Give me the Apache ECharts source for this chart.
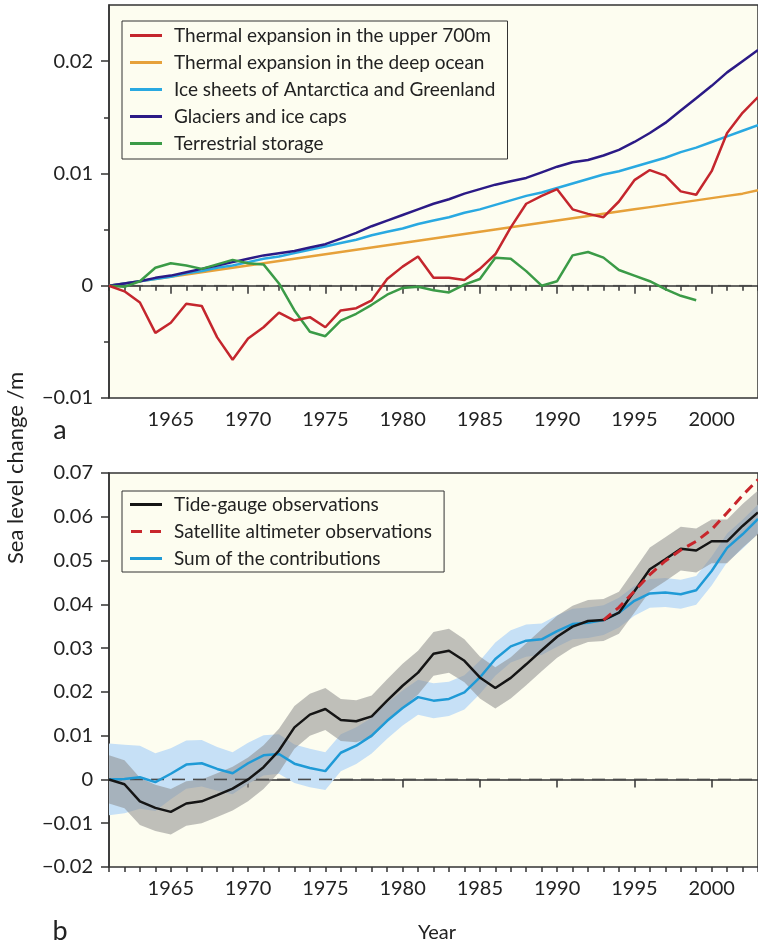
<!DOCTYPE html>
<html>
<head>
<meta charset="utf-8">
<title>Sea level change contributions</title>
<script src="https://cdn.jsdelivr.net/npm/echarts@6/dist/echarts.min.js"></script>
<style>
  html, body { margin: 0; padding: 0; background: #fff; }
  #main { width: 758px; height: 944px; }
</style>
</head>
<body>
<div id="main"></div>
<script>
// years on both panels
var years = [1961, 1962, 1963, 1964, 1965, 1966, 1967, 1968, 1969, 1970,
             1971, 1972, 1973, 1974, 1975, 1976, 1977, 1978, 1979, 1980,
             1981, 1982, 1983, 1984, 1985, 1986, 1987, 1988, 1989, 1990,
             1991, 1992, 1993, 1994, 1995, 1996, 1997, 1998, 1999, 2000,
             2001, 2002, 2003];

// panel a (m)
var thermalUpper = [0, -0.0005, -0.0015, -0.0042, -0.0033, -0.0016, -0.0018, -0.0046, -0.0066, -0.0047,
                    -0.0037, -0.0024, -0.0031, -0.0028, -0.0037, -0.0022, -0.0020, -0.0013, 0.0006, 0.0017,
                    0.0026, 0.0007, 0.0007, 0.0005, 0.0015, 0.0028, 0.0052, 0.0073, 0.0080, 0.0086,
                    0.0068, 0.0064, 0.0061, 0.0075, 0.0094, 0.0103, 0.0098, 0.0084, 0.0081, 0.0102,
                    0.0136, 0.0154, 0.0168];
var thermalDeep = [0, 0.0002, 0.0004, 0.0006, 0.0008, 0.0010, 0.0012, 0.0014, 0.0016, 0.0018,
                   0.0020, 0.0022, 0.0024, 0.0026, 0.0028, 0.0030, 0.0032, 0.0034, 0.0036, 0.0038,
                   0.0040, 0.0042, 0.0044, 0.0046, 0.0048, 0.0050, 0.0052, 0.0054, 0.0056, 0.0058,
                   0.0060, 0.0062, 0.0064, 0.0066, 0.0068, 0.0070, 0.0072, 0.0074, 0.0076, 0.0078,
                   0.0080, 0.0082, 0.0085];
var iceSheets = [0, 0.0002, 0.0004, 0.0006, 0.0008, 0.0011, 0.0013, 0.0016, 0.0018, 0.0021,
                 0.0024, 0.0026, 0.0029, 0.0032, 0.0035, 0.0038, 0.0041, 0.0045, 0.0048, 0.0051,
                 0.0055, 0.0058, 0.0061, 0.0065, 0.0068, 0.0072, 0.0076, 0.0080, 0.0083, 0.0087,
                 0.0091, 0.0095, 0.0099, 0.0102, 0.0106, 0.0110, 0.0114, 0.0119, 0.0123, 0.0128,
                 0.0133, 0.0138, 0.0143];
var glaciers = [0, 0.0002, 0.0004, 0.0007, 0.0009, 0.0012, 0.0015, 0.0018, 0.0021, 0.0024,
                0.0027, 0.0029, 0.0031, 0.0034, 0.0037, 0.0042, 0.0047, 0.0053, 0.0058, 0.0063,
                0.0068, 0.0073, 0.0077, 0.0082, 0.0086, 0.0090, 0.0093, 0.0096, 0.0101, 0.0106,
                0.0110, 0.0112, 0.0116, 0.0121, 0.0128, 0.0136, 0.0145, 0.0156, 0.0167, 0.0178,
                0.0190, 0.0200, 0.0210];
// ends in 1999
var terrestrial = [0, -0.0001, 0.0004, 0.0016, 0.0020, 0.0018, 0.0015, 0.0019, 0.0023, 0.0020,
                   0.0019, 0.0002, -0.0022, -0.0041, -0.0045, -0.0031, -0.0025, -0.0017, -0.0008, -0.0002,
                   -0.0001, -0.0004, -0.0006, 0.0001, 0.0006, 0.0025, 0.0024, 0.0013, 0.0000, 0.0004,
                   0.0027, 0.0030, 0.0025, 0.0014, 0.0009, 0.0004, -0.0003, -0.0009, -0.0013];

// panel b (m)
var tideGauge = [0, -0.0011, -0.0050, -0.0065, -0.0074, -0.0055, -0.0050, -0.0036, -0.0021, 0.0000,
                 0.0028, 0.0066, 0.0119, 0.0148, 0.0161, 0.0136, 0.0133, 0.0144, 0.0180, 0.0214,
                 0.0244, 0.0287, 0.0294, 0.0271, 0.0233, 0.0209, 0.0232, 0.0263, 0.0295, 0.0326,
                 0.0349, 0.0362, 0.0364, 0.0381, 0.0430, 0.0480, 0.0503, 0.0527, 0.0523, 0.0544,
                 0.0544, 0.0579, 0.0610];
var tideErr = [0.0055, 0.0055, 0.0054, 0.0053, 0.0052, 0.0051, 0.0050, 0.0050, 0.0050, 0.0050,
               0.0050, 0.0050, 0.0049, 0.0048, 0.0048, 0.0048, 0.0048, 0.0048, 0.0049, 0.0050,
               0.0050, 0.0050, 0.0050, 0.0049, 0.0048, 0.0047, 0.0047, 0.0048, 0.0048, 0.0048,
               0.0048, 0.0048, 0.0048, 0.0048, 0.0049, 0.0050, 0.0050, 0.0050, 0.0050, 0.0050,
               0.0050, 0.0050, 0.0050];
var satYears = [1993, 1994, 1995, 1996, 1997, 1998, 1999, 2000, 2001, 2002, 2003];
var satellite = [0.0364, 0.0393, 0.0430, 0.0468, 0.0499, 0.0524, 0.0544, 0.0571, 0.0609, 0.0649, 0.0685];
var sumContrib = [0, 0.0001, 0.0005, -0.0006, 0.0013, 0.0034, 0.0037, 0.0024, 0.0014, 0.0037,
                  0.0055, 0.0058, 0.0036, 0.0026, 0.0019, 0.0061, 0.0077, 0.0100, 0.0134, 0.0163,
                  0.0188, 0.0180, 0.0184, 0.0199, 0.0233, 0.0275, 0.0304, 0.0317, 0.0320, 0.0339,
                  0.0355, 0.0358, 0.0364, 0.0381, 0.0408, 0.0425, 0.0427, 0.0423, 0.0432, 0.0476,
                  0.0529, 0.0560, 0.0595];
var sumErr = [0.0082, 0.0078, 0.0072, 0.0066, 0.0058, 0.0055, 0.0053, 0.0050, 0.0048, 0.0047,
              0.0046, 0.0045, 0.0044, 0.0044, 0.0043, 0.0042, 0.0042, 0.0041, 0.0041, 0.0040,
              0.0040, 0.0040, 0.0039, 0.0039, 0.0038, 0.0038, 0.0037, 0.0037, 0.0036, 0.0036,
              0.0035, 0.0035, 0.0034, 0.0034, 0.0034, 0.0033, 0.0033, 0.0033, 0.0033, 0.0033,
              0.0033, 0.0033, 0.0033];

// zero reference line (dashed): one dash per year step
var zeroYears = years;
var zeroLevel = years.map(function () { return 0; });

// tick labels
var yearLabels = [1965, 1970, 1975, 1980, 1985, 1990, 1995, 2000];
var topYLabels = [-0.01, 0, 0.01, 0.02];
var topYMinor = [-0.005, 0.005, 0.015];

var font = 'Lato, "Noto Sans", sans-serif';
var ink = '#333';

function pairs(xs, ys) {
  return ys.map(function (v, i) { return [xs[i], v]; });
}
function fmt(v) {
  if (Math.abs(v) < 1e-9) return '0';
  return (v < 0 ? '\u2212' : '') + Math.abs(v).toFixed(2);
}

function xMajor(g) {
  return {
    type: 'value', gridIndex: g, position: 'bottom', min: 1961, max: 2003,
    axisLine: { lineStyle: { color: ink, width: 1.5 } },
    axisTick: { customValues: yearLabels, length: 8, lineStyle: { color: ink, width: 1.5 } },
    axisLabel: { customValues: yearLabels, formatter: function (v) { return String(v); },
                 margin: 12, fontSize: 20, color: '#222', fontFamily: font },
    splitLine: { show: false }
  };
}
function xMinor(g) {
  return {
    type: 'value', gridIndex: g, position: 'bottom', min: 1961, max: 2003, interval: 1,
    axisLine: { show: false },
    axisTick: { length: 5, lineStyle: { color: ink, width: 1.5 } },
    axisLabel: { show: false },
    splitLine: { show: false }
  };
}

function line(name, xs, ys, color, xi, yi, extra) {
  var s = {
    name: name, type: 'line', xAxisIndex: xi, yAxisIndex: yi,
    data: pairs(xs, ys), symbol: 'none', z: 10,
    lineStyle: { color: color, width: 2.5 }, itemStyle: { color: color }
  };
  for (var k in extra) s[k] = extra[k];
  return s;
}

// dashed zero reference: short segments placed through the axis scales
function zeroSeries(xi, yi) {
  return {
    name: 'zero', type: 'custom', xAxisIndex: xi, yAxisIndex: yi, silent: true, z: 5,
    data: pairs(zeroYears, zeroLevel),
    renderItem: function (params, api) {
      if (params.dataIndex !== 0) return null;
      var a = api.coord([zeroYears[0], 0]);
      var b = api.coord([zeroYears[zeroYears.length - 1], 0]);
      var segs = [];
      for (var x = a[0]; x < b[0]; x += 21) {
        segs.push({ type: 'line', shape: { x1: x, y1: a[1], x2: Math.min(x + 13, b[0]), y2: a[1] },
                    style: { stroke: '#4a4a4a', lineWidth: 1.6 } });
      }
      return { type: 'group', children: segs };
    }
  };
}

// uncertainty band drawn as one polygon through the axis scales
function band(name, mid, err, color, z) {
  return {
    name: name, type: 'custom', xAxisIndex: 2, yAxisIndex: 2, z: z, silent: true,
    data: pairs(years, mid),
    renderItem: function (params, api) {
      if (params.dataIndex !== 0) return null;
      var pts = [];
      for (var i = 0; i < years.length; i++) pts.push(api.coord([years[i], mid[i] + err[i]]));
      for (var j = years.length - 1; j >= 0; j--) pts.push(api.coord([years[j], mid[j] - err[j]]));
      return { type: 'polygon', shape: { points: pts }, style: { fill: color } };
    }
  };
}

var legendBase = {
  orient: 'vertical', left: 122, itemWidth: 32, itemHeight: 3, itemGap: 8,
  backgroundColor: '#fdfdf0', borderColor: ink, borderWidth: 1, borderRadius: 0,
  textStyle: { fontFamily: font, fontSize: 19, color: '#222', padding: [0, 0, 0, 7] },
  selectedMode: false
};

var chart = echarts.init(document.getElementById('main'));
chart.setOption({
  animation: false,
  backgroundColor: '#fff',
  grid: [
    { left: 109, top: 5, width: 655, height: 393, show: true,
      backgroundColor: '#fdfdf0', borderColor: ink, borderWidth: 1.5 },
    { left: 109, top: 473, width: 655, height: 394, show: true,
      backgroundColor: '#fdfdf0', borderColor: ink, borderWidth: 1.5 }
  ],
  xAxis: [xMajor(0), xMinor(0), xMajor(1), xMinor(1)],
  yAxis: [
    { type: 'value', gridIndex: 0, position: 'left', min: -0.01, max: 0.025,
      axisLine: { lineStyle: { color: ink, width: 1.5 } },
      axisTick: { customValues: topYLabels, length: 8, lineStyle: { color: ink, width: 1.5 } },
      axisLabel: { customValues: topYLabels, formatter: fmt, margin: 16, fontSize: 20, color: '#222', fontFamily: font },
      splitLine: { show: false } },
    { type: 'value', gridIndex: 0, position: 'left', min: -0.01, max: 0.025,
      axisLine: { show: false },
      axisTick: { customValues: topYMinor, length: 5, lineStyle: { color: ink, width: 1.5 } },
      axisLabel: { show: false }, splitLine: { show: false } },
    { type: 'value', gridIndex: 1, position: 'left', min: -0.02, max: 0.07, interval: 0.01,
      axisLine: { lineStyle: { color: ink, width: 1.5 } },
      axisTick: { length: 8, lineStyle: { color: ink, width: 1.5 } },
      axisLabel: { formatter: fmt, margin: 16, fontSize: 20, color: '#222', fontFamily: font },
      splitLine: { show: false } }
  ],
  legend: [
    Object.assign({}, legendBase, {
      top: 21, padding: [5, 12, 6, 8],
      data: [
        { name: 'Thermal expansion in the upper 700m', icon: 'rect' },
        { name: 'Thermal expansion in the deep ocean', icon: 'rect' },
        { name: 'Ice sheets of Antarctica and Greenland', icon: 'rect' },
        { name: 'Glaciers and ice caps', icon: 'rect' },
        { name: 'Terrestrial storage', icon: 'rect' }
      ]
    }),
    Object.assign({}, legendBase, {
      top: 491, padding: [4, 12, 4, 8],
      data: [
        { name: 'Tide-gauge observations', icon: 'rect' },
        { name: 'Satellite altimeter observations', icon: 'path://M0 0H11V3H0Z M19 0H30V3H19Z' },
        { name: 'Sum of the contributions', icon: 'rect' }
      ]
    })
  ],
  series: [
    zeroSeries(0, 0),
    line('Thermal expansion in the deep ocean', years, thermalDeep, '#e6a13a', 0, 0, { z: 9 }),
    line('Ice sheets of Antarctica and Greenland', years, iceSheets, '#29a9e1', 0, 0),
    line('Glaciers and ice caps', years, glaciers, '#2b1a86', 0, 0),
    line('Terrestrial storage', years.slice(0, terrestrial.length), terrestrial, '#3b9b47', 0, 0),
    line('Thermal expansion in the upper 700m', years, thermalUpper, '#c4262d', 0, 0, { z: 11 }),
    band('sum band', sumContrib, sumErr, '#c6e0f6', 1),
    band('tide band', tideGauge, tideErr, 'rgba(140,140,140,0.55)', 2),
    zeroSeries(2, 2),
    line('Sum of the contributions', years, sumContrib, '#1f9ad6', 2, 2),
    line('Tide-gauge observations', years, tideGauge, '#151515', 2, 2, { z: 11 }),
    line('Satellite altimeter observations', satYears, satellite, '#c8262c', 2, 2,
      { z: 12, lineStyle: { color: '#c8262c', width: 3, type: [10, 6] } })
  ],
  graphic: [
    { type: 'text', x: 16, y: 468, rotation: Math.PI / 2,
      style: { text: 'Sea level change /m', fontFamily: font, fontSize: 22, fill: '#222',
               align: 'center', verticalAlign: 'middle' } },
    { type: 'text', x: 60, y: 430,
      style: { text: 'a', fontFamily: font, fontSize: 27, fill: '#222', align: 'center', verticalAlign: 'middle' } },
    { type: 'text', x: 60, y: 931,
      style: { text: 'b', fontFamily: font, fontSize: 27, fill: '#222', align: 'center', verticalAlign: 'middle' } },
    { type: 'text', x: 437, y: 933,
      style: { text: 'Year', fontFamily: font, fontSize: 20, fill: '#222', align: 'center', verticalAlign: 'middle' } }
  ]
});
</script>
</body>
</html>
